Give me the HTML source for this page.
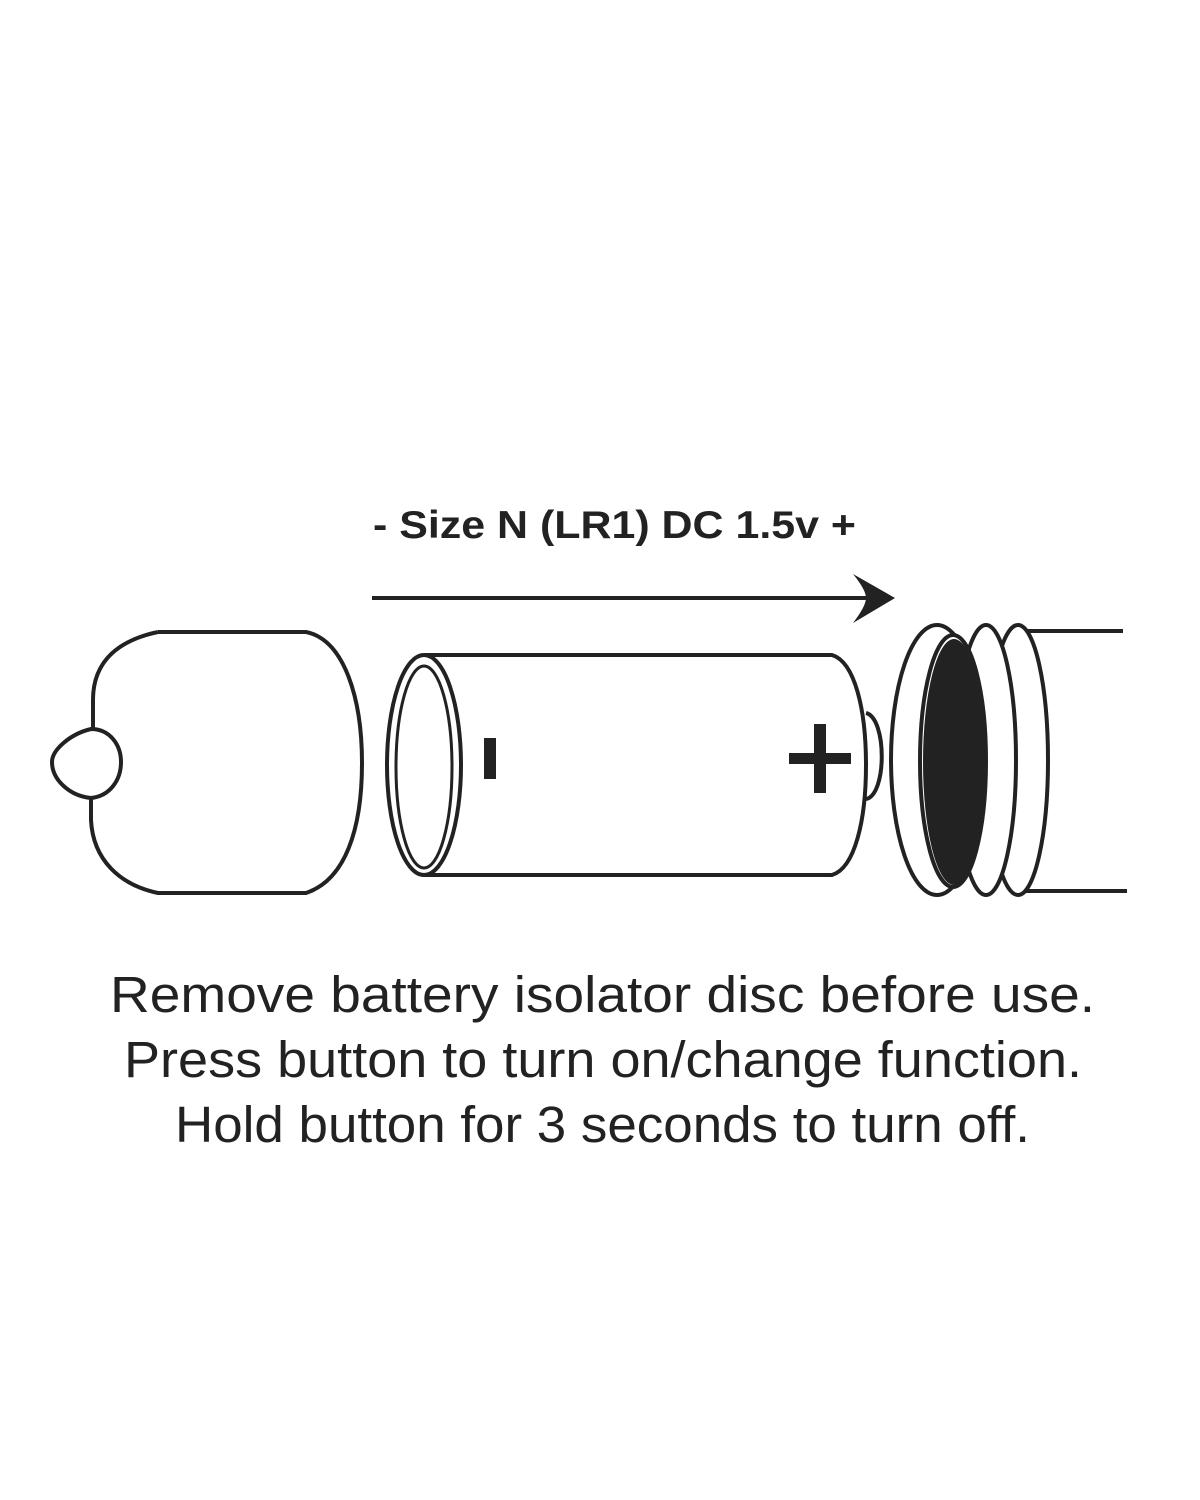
<!DOCTYPE html>
<html><head><meta charset="utf-8"><style>html,body{margin:0;padding:0;background:#fff}svg{display:block}</style></head>
<body>
<svg width="1200" height="1500" viewBox="0 0 1200 1500" xmlns="http://www.w3.org/2000/svg">
<g fill="none" stroke="#222" stroke-width="4">
<!-- cap -->
<path d="M158,632 L306,632 C345,640 362,700 362,763 C362,830 345,880 306,893 L158,893 C120,885 93,860 91,820 L91,795 M93,731 L93,700 C93,660 120,640 158,632" fill="#fff"/>
<path d="M91,729 C70,734 52,750 52,762 C52,780 70,796 91,798 C110,796 121,780 121,762 C121,745 110,729 91,729 Z" fill="#fff"/>
<!-- battery -->
<path d="M866,713 C887,718 887,795 866,799" fill="#fff"/>
<path d="M424,655 L832,655 C855,662 866,710 866,765 C866,820 855,868 832,875 L424,875" fill="#fff"/>
<ellipse cx="424" cy="765" rx="37" ry="110" fill="#fff"/>
<ellipse cx="424" cy="767" rx="28" ry="101" stroke-width="3"/>
<!-- tube -->
<line x1="1010" y1="631" x2="1123" y2="631"/>
<line x1="1010" y1="891" x2="1127" y2="891"/>
<ellipse cx="1018" cy="760" rx="30" ry="135" fill="#fff"/>
<ellipse cx="986" cy="760" rx="30" ry="135" fill="#fff"/>
<ellipse cx="937" cy="760" rx="46" ry="135" fill="#fff"/>
<ellipse cx="953" cy="761" rx="33" ry="126" fill="#fff"/>
</g>
<ellipse cx="954" cy="762" rx="31" ry="123" fill="#222"/>
<!-- arrow -->
<line x1="372" y1="598" x2="870" y2="598" stroke="#222" stroke-width="4"/>
<path d="M895,598 L853,574 Q866,590 866,598 Q866,606 853,623 Z" fill="#222"/>
<!-- signs -->
<rect x="484" y="738" width="12" height="41" fill="#222"/>
<rect x="789" y="753" width="62" height="11" fill="#222"/>
<rect x="814" y="724" width="12" height="69" fill="#222"/>
<g fill="#222" font-family="Liberation Sans, sans-serif">
<text x="373" y="538" font-size="39" font-weight="bold" textLength="483" lengthAdjust="spacingAndGlyphs">- Size N (LR1) DC 1.5v +</text>
<text x="110" y="1012" font-size="51" textLength="985" lengthAdjust="spacingAndGlyphs">Remove battery isolator disc before use.</text>
<text x="124" y="1077" font-size="51" textLength="958" lengthAdjust="spacingAndGlyphs">Press button to turn on/change function.</text>
<text x="175" y="1142" font-size="51" textLength="855" lengthAdjust="spacingAndGlyphs">Hold button for 3 seconds to turn off.</text>
</g>
</svg>
</body></html>
